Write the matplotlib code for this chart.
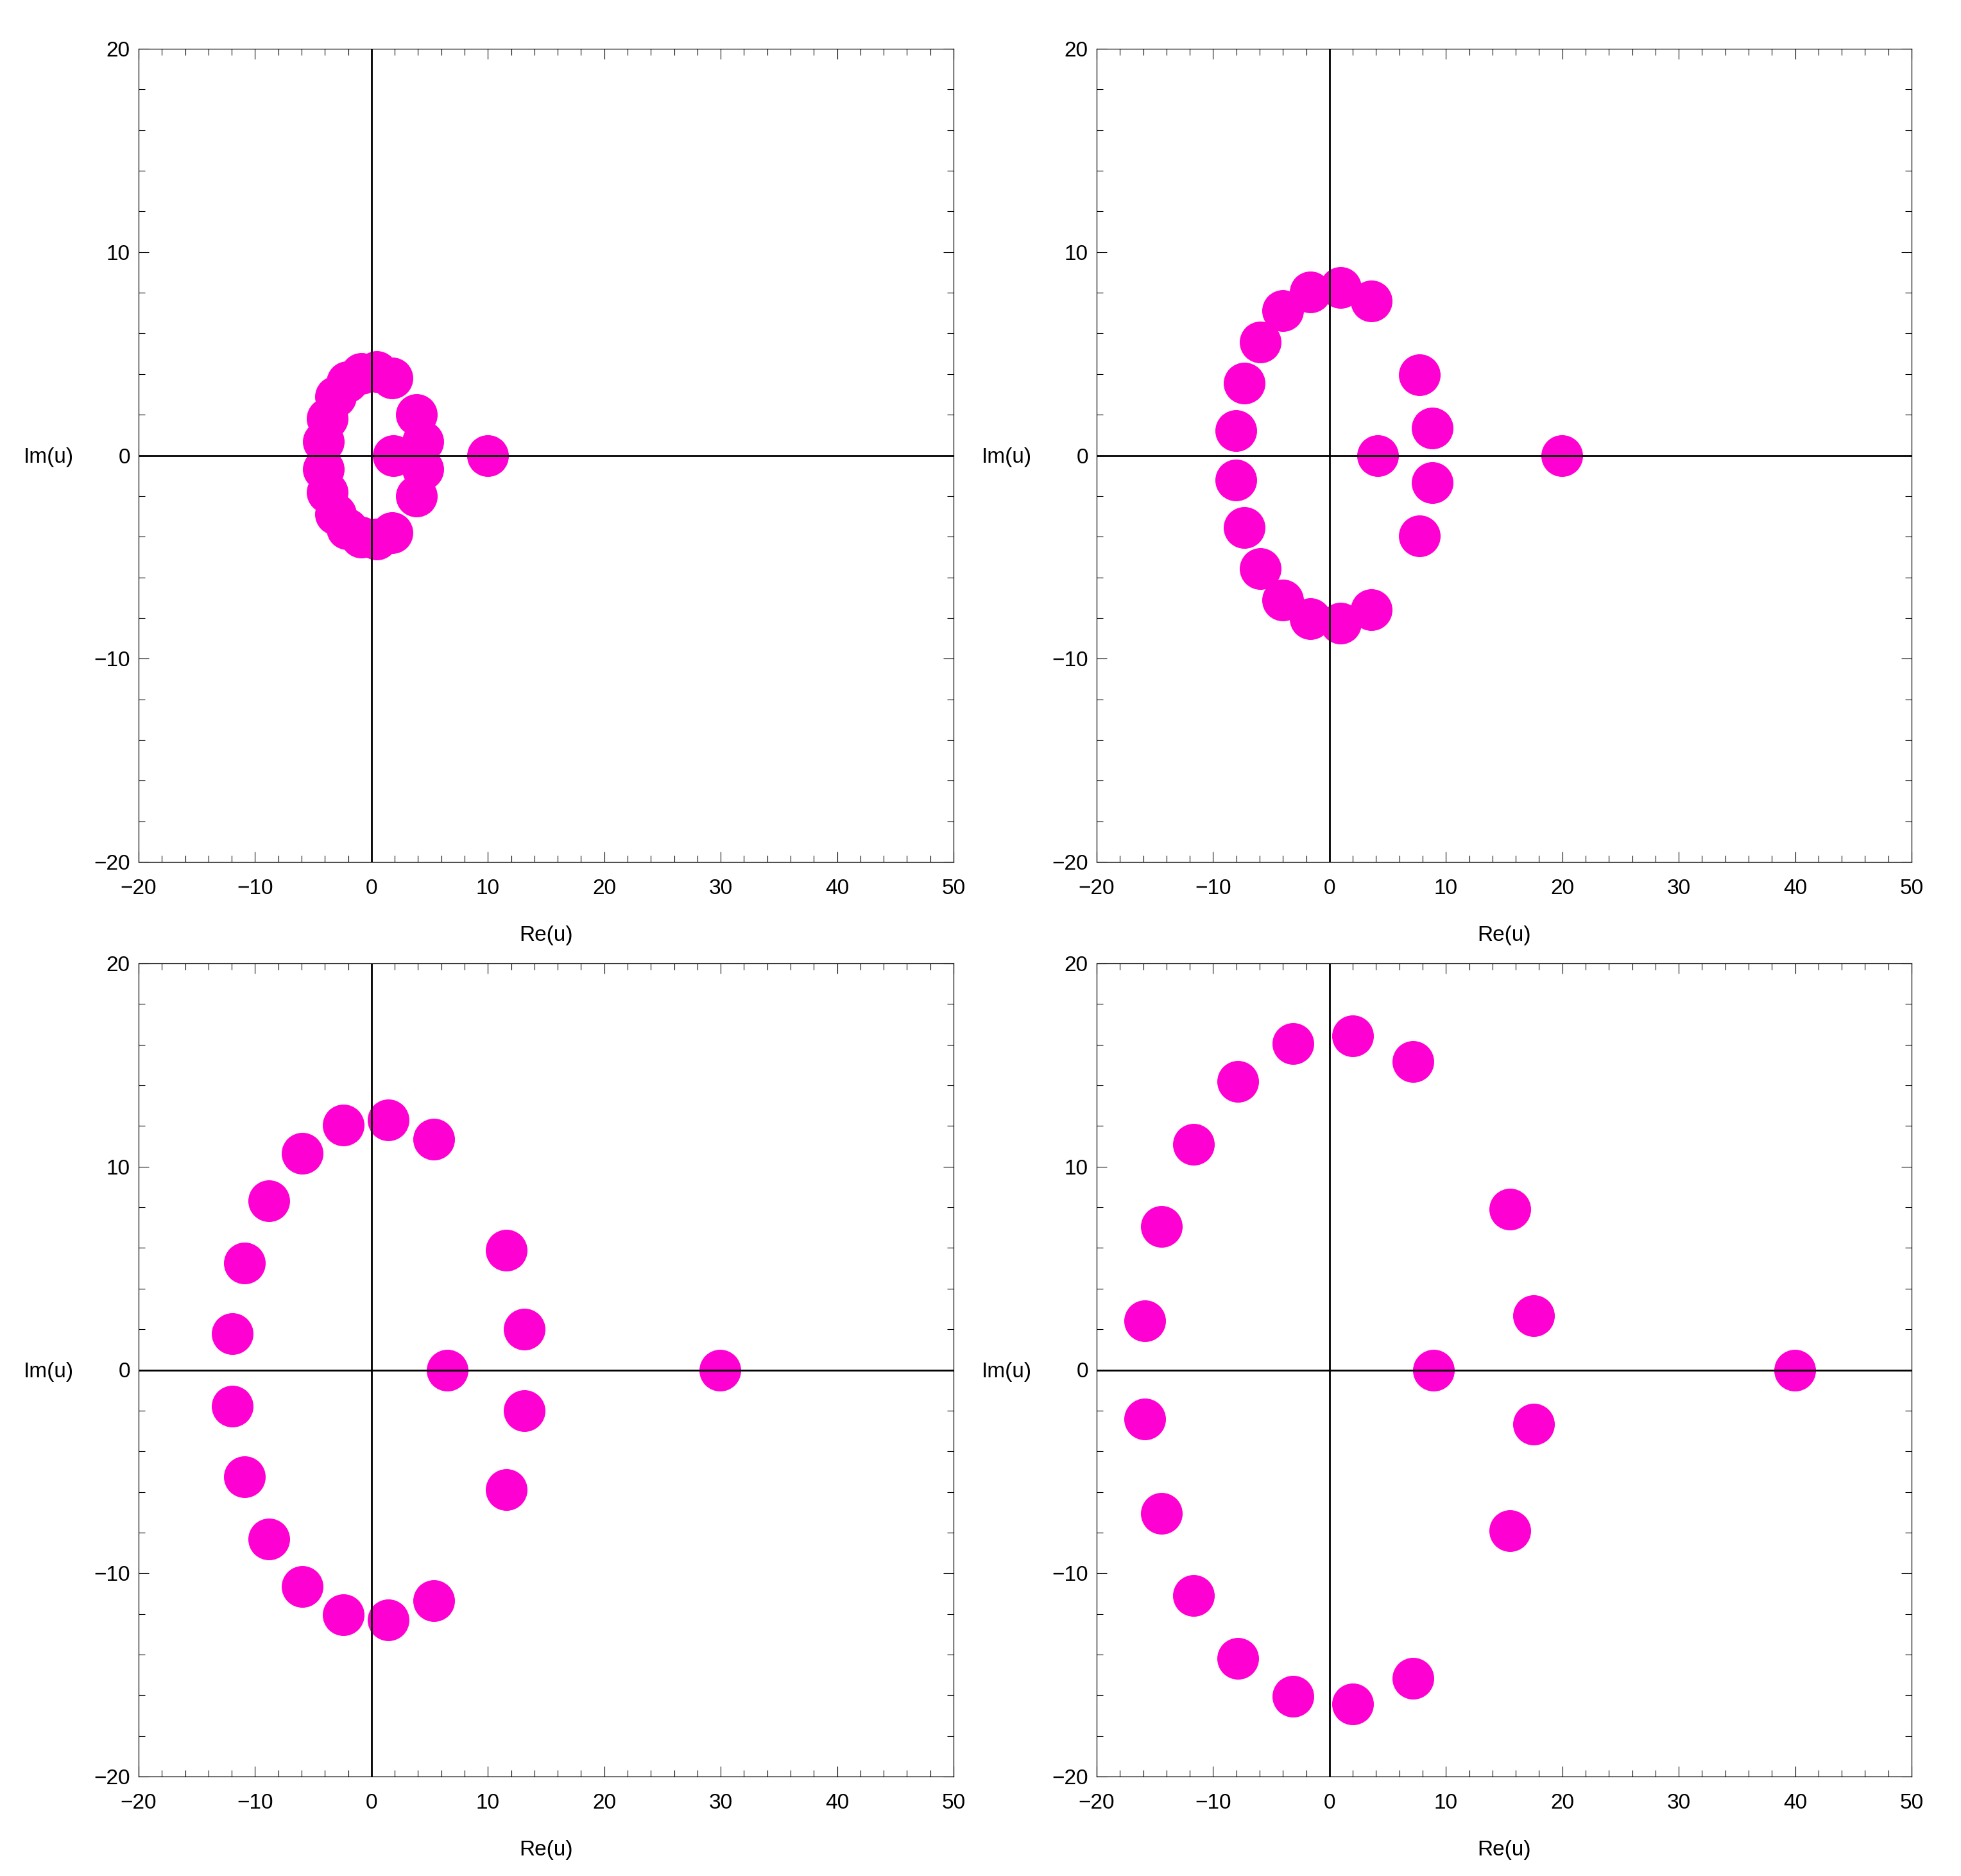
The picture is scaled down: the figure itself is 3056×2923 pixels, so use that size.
import numpy as np
import matplotlib
matplotlib.use("Agg")
import matplotlib.pyplot as plt
from matplotlib.ticker import MultipleLocator

plt.rcParams['font.family'] = ['Liberation Sans', 'DejaVu Sans']

# root positions (Re, Im)
re_1 = [-4.15, -3.8, -3.1, -2.1, -0.85, 0.44, 1.76, 3.88, 4.41, 1.86, 10.0,
        4.41, 3.88, 1.76, 0.44, -0.85, -2.1, -3.1, -3.8, -4.15]
im_1 = [0.68, 1.8, 2.88, 3.6, 4.04, 4.11, 3.82, 2.0, 0.69, 0.0, 0.0,
        -0.69, -2.0, -3.82, -4.11, -4.04, -3.6, -2.88, -1.8, -0.68]

re_2 = [-8.02, -7.32, -5.93, -3.99, -1.65, 0.97, 3.57, 7.72, 8.8, 4.13, 19.96,
        8.8, 7.72, 3.57, 0.97, -1.65, -3.99, -5.93, -7.32, -8.02]
im_2 = [1.22, 3.54, 5.57, 7.13, 8.05, 8.24, 7.6, 3.95, 1.35, 0.0, 0.0,
        -1.35, -3.95, -7.6, -8.24, -8.05, -7.13, -5.57, -3.54, -1.22]

re_3 = [-11.95, -10.88, -8.82, -5.92, -2.42, 1.46, 5.35, 11.57, 13.15, 6.49, 29.95,
        13.15, 11.57, 5.35, 1.46, -2.42, -5.92, -8.82, -10.88, -11.95]
im_3 = [1.79, 5.27, 8.32, 10.65, 12.04, 12.3, 11.36, 5.9, 1.99, 0.0, 0.0,
        -1.99, -5.9, -11.36, -12.3, -12.04, -10.65, -8.32, -5.27, -1.79]

re_4 = [-15.85, -14.42, -11.68, -7.85, -3.13, 2.01, 7.15, 15.47, 17.56, 8.93, 39.95,
        17.56, 15.47, 7.15, 2.01, -3.13, -7.85, -11.68, -14.42, -15.85]
im_4 = [2.42, 7.05, 11.1, 14.2, 16.06, 16.43, 15.16, 7.9, 2.68, 0.0, 0.0,
        -2.68, -7.9, -15.16, -16.43, -16.06, -14.2, -11.1, -7.05, -2.42]

panels = [(re_1, im_1), (re_2, im_2), (re_3, im_3), (re_4, im_4)]

W, H = 3056, 2923
fig = plt.figure(figsize=(W / 100, H / 100), dpi=100)

lefts = [216, 1709]
tops = [76, 1501]
aw, ah = 1270, 1267

for i, (re, im) in enumerate(panels):
    l = lefts[i % 2]
    t = tops[i // 2]
    ax = fig.add_axes([l / W, 1 - (t + ah) / H, aw / W, ah / H])

    ax.plot(re, im, 'o', color='#ff00d2', markersize=46.8, markeredgewidth=0, zorder=2)
    ax.axhline(0, color='black', lw=2.0, zorder=3)
    ax.axvline(0, color='black', lw=2.0, zorder=3)

    ax.set_xlim(-20, 50)
    ax.set_ylim(-20, 20)
    ax.xaxis.set_major_locator(MultipleLocator(10))
    ax.xaxis.set_minor_locator(MultipleLocator(2))
    ax.yaxis.set_major_locator(MultipleLocator(10))
    ax.yaxis.set_minor_locator(MultipleLocator(2))

    ax.tick_params(which='both', direction='in', top=True, right=True,
                   width=0.8, color='black', labelsize=24)
    ax.tick_params(which='major', length=11.5)
    ax.tick_params(which='minor', length=7)
    ax.tick_params(axis='x', which='major', pad=19)
    ax.tick_params(axis='y', which='major', pad=9.5)
    for s in ax.spines.values():
        s.set_linewidth(0.9)
        s.set_color('black')

    ax.set_xlabel('Re(u)', fontsize=24)
    ax.xaxis.set_label_coords(0.5, -0.0905)
    ax.xaxis.label.set_va('center')
    ax.set_ylabel('Im(u)', fontsize=24, rotation=0)
    ax.yaxis.set_label_coords(-0.11, 0.4975)
    ax.yaxis.label.set_va('center')
    ax.yaxis.label.set_ha('center')

fig.savefig('out.png', dpi=100, facecolor='white')
